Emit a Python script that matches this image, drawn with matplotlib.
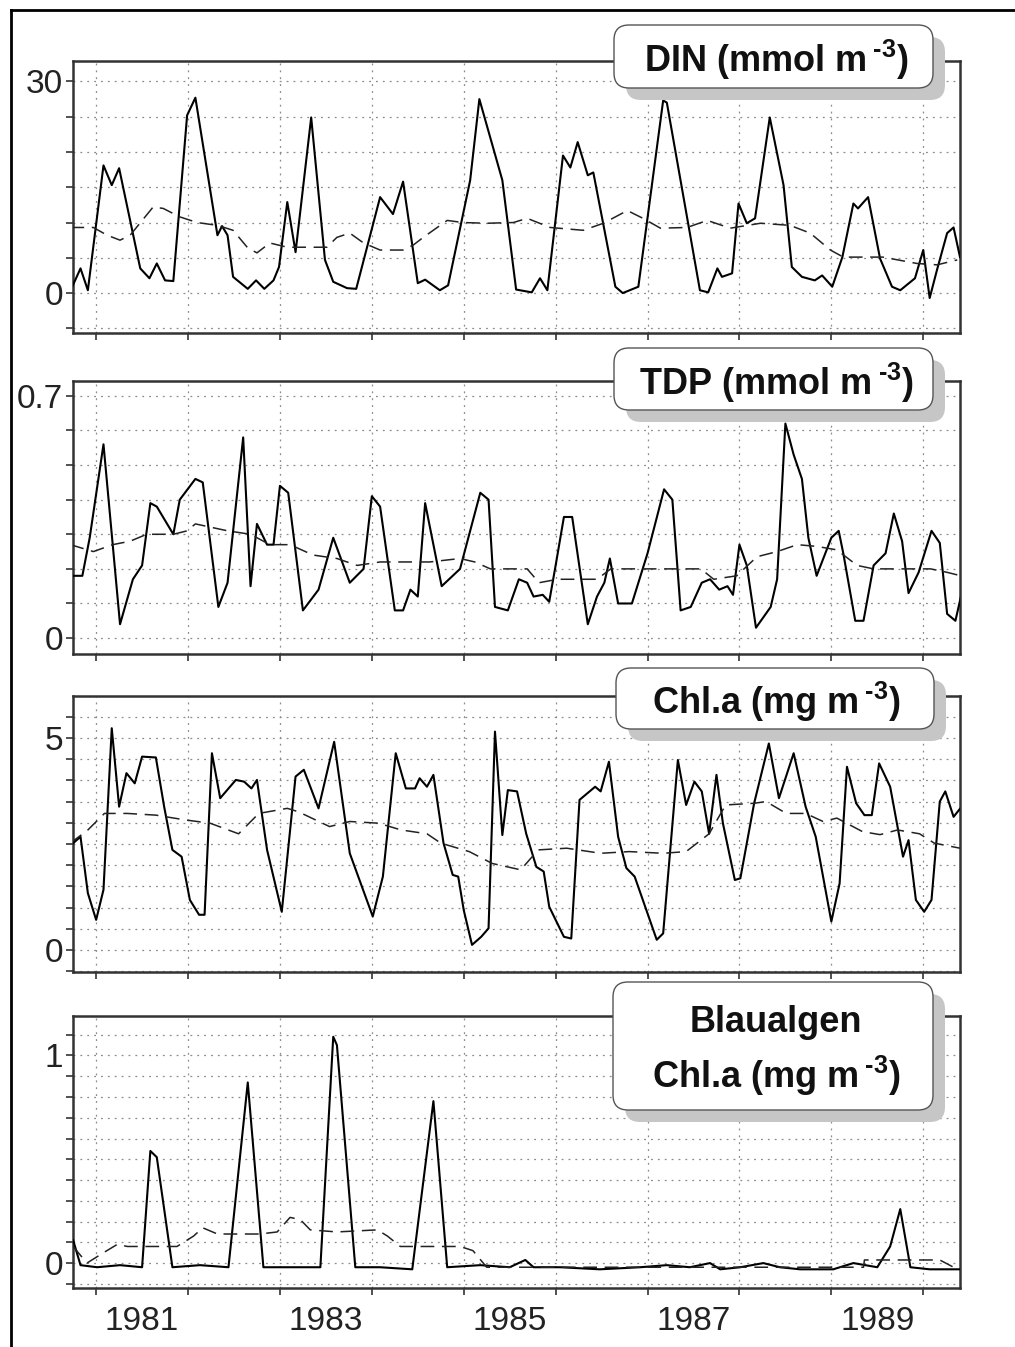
"""
Zeitreihen DIN, TDP, Chl.a und Blaualgen 1981-1989
(Messwerte durchgezogen, gleitendes Mittel gestrichelt)
"""

import matplotlib
matplotlib.use('Agg')
import matplotlib.pyplot as plt
from matplotlib.patches import FancyBboxPatch
from matplotlib.lines import Line2D
from matplotlib.ticker import MultipleLocator, FixedLocator, NullFormatter

plt.rcParams['font.family'] = ['Liberation Sans', 'DejaVu Sans']
plt.rcParams['mathtext.fontset'] = 'custom'
plt.rcParams['mathtext.rm'] = 'Liberation Sans:bold'
plt.rcParams['mathtext.bf'] = 'Liberation Sans:bold'

# ---------------- data (decimal year, value) ----------------

# DIN (mmol m-3)
din_t = [1980.74, 1980.83, 1980.91,
         1981.08, 1981.17, 1981.25, 1981.48, 1981.58, 1981.66, 1981.75, 1981.84, 1981.99,
         1982.08, 1982.32, 1982.37, 1982.43, 1982.49, 1982.65, 1982.74, 1982.83, 1982.93, 1982.99,
         1983.08, 1983.17, 1983.34, 1983.49, 1983.58, 1983.73, 1983.83,
         1984.09, 1984.23, 1984.34, 1984.50, 1984.58, 1984.74, 1984.83,
         1985.07, 1985.17, 1985.42, 1985.57, 1985.74, 1985.83, 1985.91,
         1986.08, 1986.16, 1986.24, 1986.35, 1986.41, 1986.65, 1986.73, 1986.90,
         1987.17, 1987.21, 1987.57, 1987.66, 1987.76, 1987.81, 1987.92, 1987.99,
         1988.08, 1988.17, 1988.33, 1988.48, 1988.57, 1988.68, 1988.82, 1988.90,
         1989.01, 1989.12, 1989.24, 1989.29, 1989.40, 1989.53, 1989.66, 1989.75, 1989.91,
         1990.00, 1990.07, 1990.15, 1990.26, 1990.33, 1990.40]
din_v = [0.9, 3.5, 0.4,
         18.1, 15.3, 17.7, 3.5, 2.1, 4.2, 1.8, 1.7, 25.2,
         27.7, 8.2, 9.5, 8.2, 2.3, 0.6, 1.8, 0.6, 1.8, 3.7,
         12.9, 5.8, 24.9, 4.7, 1.6, 0.7, 0.6,
         13.6, 11.2, 15.8, 1.4, 1.9, 0.4, 1.1,
         16.0, 27.5, 16.0, 0.5, 0.1, 2.1, 0.4,
         19.5, 17.8, 21.4, 16.7, 17.1, 0.9, 0.0, 0.9,
         27.3, 27.0, 0.4, 0.1, 3.5, 2.3, 2.8, 12.7,
         9.9, 10.6, 24.9, 15.3, 3.7, 2.3, 1.8, 2.5,
         0.9, 5.1, 12.7, 12.0, 13.6, 4.9, 0.9, 0.4, 2.1,
         6.1, -0.7, 3.3, 8.5, 9.3, 5.1]
din_mean_t = [1980.72, 1980.97,
              1981.12, 1981.26, 1981.37, 1981.62, 1981.73, 1981.91,
              1982.10, 1982.32, 1982.49, 1982.65, 1982.75, 1982.89,
              1983.08, 1983.51, 1983.62, 1983.76, 1983.91,
              1984.09, 1984.34, 1984.45, 1984.56, 1984.82, 1984.99,
              1985.25, 1985.54, 1985.69, 1985.94,
              1986.30, 1986.52, 1986.78, 1986.95,
              1987.14, 1987.43, 1987.65, 1987.90,
              1988.23, 1988.55, 1988.77, 1988.99,
              1989.13, 1989.56, 1989.93,
              1990.15, 1990.37]
din_mean_v = [9.3, 9.3,
              8.2, 7.5, 8.2, 12.2, 12.0, 10.8,
              10.0, 9.6, 8.9, 6.4, 5.7, 7.1,
              6.5, 6.5, 7.9, 8.5, 7.1,
              6.1, 6.1, 6.8, 7.9, 10.3, 10.0,
              9.9, 10.0, 10.6, 9.3,
              8.9, 9.9, 11.7, 10.6,
              9.2, 9.3, 10.3, 9.2,
              9.9, 9.6, 8.5, 6.1,
              5.1, 5.1, 4.2,
              4.0, 4.7]

# TDP (mmol m-3)
tdp_t = [1980.72, 1980.85, 1980.93,
         1981.08, 1981.26, 1981.40, 1981.50, 1981.59, 1981.66, 1981.84, 1981.91,
         1982.08, 1982.16, 1982.33, 1982.43, 1982.60, 1982.68, 1982.75, 1982.86, 1982.93,
         1983.00, 1983.09, 1983.25, 1983.42, 1983.58, 1983.76, 1983.91,
         1984.00, 1984.09, 1984.25, 1984.34, 1984.42, 1984.50, 1984.58, 1984.76, 1984.96,
         1985.18, 1985.27, 1985.34, 1985.48, 1985.60, 1985.69, 1985.76, 1985.86, 1985.93,
         1986.00, 1986.09, 1986.18, 1986.35, 1986.45, 1986.53, 1986.59, 1986.68, 1986.83,
         1987.00, 1987.18, 1987.27, 1987.36, 1987.47, 1987.59, 1987.68, 1987.78, 1987.87, 1987.93,
         1988.00, 1988.08, 1988.18, 1988.34, 1988.41, 1988.50, 1988.59, 1988.68, 1988.75, 1988.84,
         1989.00, 1989.08, 1989.13, 1989.26, 1989.35, 1989.46, 1989.59, 1989.68, 1989.77, 1989.84, 1989.95,
         1990.09, 1990.18, 1990.26, 1990.35, 1990.41]
tdp_v = [0.18, 0.18, 0.29,
         0.56, 0.04, 0.17, 0.21, 0.39, 0.38, 0.30, 0.40,
         0.46, 0.45, 0.09, 0.16, 0.58, 0.15, 0.33, 0.27, 0.27,
         0.44, 0.42, 0.08, 0.14, 0.29, 0.16, 0.20,
         0.41, 0.38, 0.08, 0.08, 0.14, 0.12, 0.39, 0.15, 0.20,
         0.42, 0.40, 0.09, 0.08, 0.17, 0.16, 0.12, 0.125, 0.105,
         0.21, 0.35, 0.35, 0.04, 0.12, 0.16, 0.23, 0.10, 0.10,
         0.245, 0.43, 0.40, 0.08, 0.09, 0.16, 0.17, 0.14, 0.15, 0.125,
         0.27, 0.21, 0.03, 0.09, 0.17, 0.62, 0.53, 0.46, 0.29, 0.18,
         0.29, 0.31, 0.245, 0.05, 0.05, 0.21, 0.245, 0.36, 0.28, 0.13, 0.19,
         0.31, 0.275, 0.07, 0.05, 0.12]
tdp_mean_t = [1980.72, 1980.97,
              1981.18, 1981.37, 1981.55, 1981.84, 1981.99,
              1982.08, 1982.43, 1982.68, 1982.89,
              1983.11, 1983.36, 1983.62, 1983.84,
              1984.09, 1984.63, 1984.96,
              1985.12, 1985.29, 1985.51, 1985.69, 1985.82,
              1986.02, 1986.24, 1986.45, 1986.60, 1986.82,
              1987.07, 1987.29, 1987.58, 1987.72, 1987.97,
              1988.19, 1988.41, 1988.63, 1988.84,
              1989.06, 1989.28, 1989.46, 1989.68, 1989.86,
              1990.08, 1990.26, 1990.41]
tdp_mean_v = [0.27, 0.25,
              0.27, 0.28, 0.30, 0.30, 0.31,
              0.33, 0.31, 0.30, 0.27,
              0.27, 0.24, 0.23, 0.21,
              0.22, 0.22, 0.23,
              0.22, 0.20, 0.20, 0.20, 0.16,
              0.17, 0.17, 0.17, 0.20, 0.20,
              0.20, 0.20, 0.20, 0.17, 0.18,
              0.235, 0.25, 0.27, 0.265,
              0.255, 0.21, 0.20, 0.20, 0.20,
              0.20, 0.19, 0.18]

# Chl.a (mg m-3)
chl_t = [1980.75, 1980.83, 1980.91,
         1981.00, 1981.08, 1981.17, 1981.25, 1981.33, 1981.42, 1981.50, 1981.65, 1981.74, 1981.83, 1981.93,
         1982.02, 1982.12, 1982.18, 1982.26, 1982.35, 1982.52, 1982.61, 1982.69, 1982.75, 1982.86,
         1983.02, 1983.17, 1983.26, 1983.42, 1983.59, 1983.76,
         1984.01, 1984.12, 1984.26, 1984.37, 1984.47, 1984.52, 1984.60, 1984.67, 1984.78, 1984.88, 1984.94,
         1985.00, 1985.09, 1985.19, 1985.27, 1985.34, 1985.42, 1985.48, 1985.58, 1985.68, 1985.79, 1985.87, 1985.93,
         1986.09, 1986.17, 1986.26, 1986.43, 1986.49, 1986.58, 1986.68, 1986.77, 1986.86,
         1987.10, 1987.17, 1987.33, 1987.42, 1987.51, 1987.59, 1987.67, 1987.75, 1987.82, 1987.95,
         1988.01, 1988.16, 1988.32, 1988.43, 1988.59, 1988.72, 1988.83,
         1989.00, 1989.09, 1989.17, 1989.27, 1989.36, 1989.44, 1989.52, 1989.64, 1989.72, 1989.78, 1989.84, 1989.92,
         1990.01, 1990.09, 1990.18, 1990.24, 1990.33, 1990.40]
chl_v = [2.52, 2.67, 1.34,
         0.71, 1.42, 5.23, 3.38, 4.17, 3.93, 4.56, 4.54, 3.38, 2.36, 2.20,
         1.18, 0.83, 0.83, 4.64, 3.58, 4.01, 3.97, 3.81, 4.01, 2.36,
         0.90, 4.09, 4.25, 3.34, 4.91, 2.28,
         0.79, 1.73, 4.64, 3.81, 3.81, 4.05, 3.85, 4.13, 2.52, 1.77, 1.73,
         0.94, 0.12, 0.31, 0.51, 5.15, 2.71, 3.77, 3.74, 2.74, 1.96, 1.85, 1.02,
         0.31, 0.27, 3.54, 3.85, 3.74, 4.44, 2.67, 1.93, 1.73,
         0.24, 0.39, 4.48, 3.42, 3.97, 3.74, 2.74, 4.13, 2.99, 1.65,
         1.69, 3.46, 4.87, 3.58, 4.64, 3.38, 2.67,
         0.67, 1.57, 4.32, 3.46, 3.18, 3.18, 4.40, 3.85, 2.91, 2.20, 2.59, 1.18,
         0.90, 1.18, 3.50, 3.74, 3.14, 3.33]
chl_mean_t = [1980.72, 1980.91,
              1981.09, 1981.34, 1981.65, 1981.96,
              1982.24, 1982.55, 1982.77,
              1983.08, 1983.20, 1983.54, 1983.76,
              1984.07, 1984.32, 1984.60, 1984.75,
              1985.06, 1985.31, 1985.62, 1985.81,
              1986.12, 1986.49, 1986.80,
              1987.17, 1987.42, 1987.67, 1987.85,
              1988.16, 1988.29, 1988.51, 1988.72, 1988.91,
              1989.06, 1989.34, 1989.53, 1989.72, 1989.96,
              1990.12, 1990.40]
chl_mean_v = [2.52, 2.83,
              3.22, 3.22, 3.18, 3.07,
              2.99, 2.74, 3.22,
              3.34, 3.26, 2.91, 3.03,
              2.99, 2.83, 2.74, 2.52,
              2.32, 2.04, 1.89, 2.36,
              2.40, 2.28, 2.32,
              2.28, 2.32, 2.74, 3.42,
              3.46, 3.50, 3.22, 3.22, 3.03,
              3.11, 2.79, 2.72, 2.83, 2.74,
              2.52, 2.40]

# Blaualgen Chl.a (mg m-3)
blau_t = [1980.75, 1980.83,
          1981.01, 1981.26, 1981.50, 1981.59, 1981.66, 1981.83,
          1982.13, 1982.44, 1982.65, 1982.82,
          1983.11, 1983.44, 1983.58, 1983.62, 1983.82,
          1984.09, 1984.44, 1984.67, 1984.82,
          1985.18, 1985.50, 1985.67, 1985.76,
          1986.05, 1986.48, 1986.92,
          1987.21, 1987.46, 1987.68, 1987.79,
          1988.01, 1988.26, 1988.44, 1988.66,
          1989.02, 1989.24, 1989.50, 1989.64, 1989.75, 1989.86,
          1990.07, 1990.40]
blau_v = [0.11, -0.01,
          -0.02, -0.01, -0.02, 0.54, 0.51, -0.02,
          -0.01, -0.02, 0.87, -0.02,
          -0.02, -0.02, 1.09, 1.05, -0.02,
          -0.02, -0.03, 0.78, -0.02,
          -0.01, -0.02, 0.015, -0.02,
          -0.02, -0.03, -0.02,
          -0.01, -0.02, 0.0, -0.03,
          -0.02, 0.0, -0.02, -0.03,
          -0.03, 0.0, -0.02, 0.08, 0.26, -0.02,
          -0.03, -0.03]
blau_mean_t = [1980.75, 1980.90, 1981.08, 1981.23, 1981.34,
               1981.88, 1982.06, 1982.16, 1982.32, 1982.78,
               1982.97, 1983.11, 1983.22, 1983.33, 1983.62,
               1984.06, 1984.17, 1984.31, 1984.96, 1985.10,
               1985.25, 1989.35, 1989.36, 1989.67, 1990.02,
               1990.18, 1990.33]
blau_mean_v = [0.08, 0.0, 0.05, 0.09, 0.08,
               0.08, 0.13, 0.17, 0.14, 0.14,
               0.15, 0.22, 0.21, 0.16, 0.15,
               0.16, 0.13, 0.08, 0.08, 0.06,
               -0.02, -0.02, 0.015, 0.015, 0.015,
               0.015, -0.02]

years = list(range(1981, 1991))
year_labels = ['1981', '1983', '1985', '1987', '1989']

# ---------------- figure ----------------

W, H = 1015, 1347
fig = plt.figure(figsize=(W / 100, H / 100), dpi=100)

# superscript with a small gap after the "m"
sup = r'$\,^{\text{-3}}$'

# panel: data, mean, ylim, labelled y ticks, minor step, top/bottom px, box px, label lines
panels = [
    (din_t, din_v, din_mean_t, din_mean_v, (-5.66, 32.9), [0, 30], 5, 61, 333,
     (614, 25, 933, 88), [('DIN (mmol m' + sup + ')', 72)]),
    (tdp_t, tdp_v, tdp_mean_t, tdp_mean_v, (-0.046, 0.743), [0, 0.7], 0.1, 381, 654,
     (614, 348, 933, 410), [('TDP (mmol m' + sup + ')', 395)]),
    (chl_t, chl_v, chl_mean_t, chl_mean_v, (-0.52, 5.99), [0, 5], 0.5, 696, 972,
     (616, 668, 934, 729), [('Chl.a (mg m' + sup + ')', 714)]),
    (blau_t, blau_v, blau_mean_t, blau_mean_v, (-0.12, 1.19), [0, 1], 0.1, 1016, 1288,
     (613, 982, 933, 1110), [('Blaualgen', 1032), ('Chl.a (mg m' + sup + ')', 1088)]),
]

left, right = 72.7, 960
for i, (t, v, mt, mv, ylim, yt, step, top, bottom, box, labels) in enumerate(panels):
    ax = fig.add_axes([left / W, 1 - bottom / H, (right - left) / W, (bottom - top) / H])
    ax.plot(t, v, color='k', lw=1.5, zorder=3)
    ax.plot(mt, mv, color='#222222', lw=1.1, dashes=(9, 5), zorder=3)

    ax.set_xlim(1980.745, 1990.40)
    ax.set_ylim(*ylim)

    ax.xaxis.set_major_locator(FixedLocator(years))
    ax.xaxis.set_major_formatter(NullFormatter())
    ax.yaxis.set_major_locator(FixedLocator(yt))
    ax.set_yticklabels([('%g' % y) for y in yt])
    ax.yaxis.set_minor_locator(MultipleLocator(step))

    ax.tick_params(axis='both', which='both', direction='out', length=5, width=1.2,
                   color='#333333', labelsize=24, labelcolor='#222222', pad=2)

    if i == 3:
        # year labels centred in the middle of each year
        ax.set_xticks([y + 0.5 for y in range(1981, 1990, 2)], year_labels, minor=True)
        ax.tick_params(axis='x', which='minor', length=0, pad=13, labelsize=24)

    ax.xaxis.grid(True, which='major', color='#8c8c8c', lw=0.9, linestyle=(0, (1.5, 4)))
    ax.yaxis.grid(True, which='both', color='#8c8c8c', lw=0.9, linestyle=(0, (1.5, 4)))
    ax.set_axisbelow(True)

    for s in ax.spines.values():
        s.set_linewidth(1.8)
        s.set_color('#333333')

    # label box with shadow
    x0, y0, x1, y1 = box
    bw, bh = (x1 - x0) / 100, (y1 - y0) / 100
    bx, by = x0 / 100, (H - y1) / 100
    shadow = FancyBboxPatch((bx + 0.12, by - 0.12), bw, bh,
                            boxstyle='round,pad=0,rounding_size=0.15',
                            transform=fig.dpi_scale_trans, facecolor='#c6c6c6',
                            edgecolor='none', zorder=5)
    frame = FancyBboxPatch((bx, by), bw, bh,
                           boxstyle='round,pad=0,rounding_size=0.15',
                           transform=fig.dpi_scale_trans, facecolor='white',
                           edgecolor='#555555', lw=1.0, zorder=6)
    fig.add_artist(shadow)
    fig.add_artist(frame)
    for text, base in labels:
        fig.text(776 / W, 1 - base / H, text, ha='center', va='baseline',
                 fontsize=26, fontweight='bold', color='#111111', zorder=7)

# outer frame (left and top)
fig.add_artist(Line2D([11 / W, 11 / W], [0, 1 - 10 / H], transform=fig.transFigure,
                      color='k', lw=2))
fig.add_artist(Line2D([11 / W, 1], [1 - 10 / H, 1 - 10 / H], transform=fig.transFigure,
                      color='k', lw=2))

fig.savefig('out.png', dpi=100)
